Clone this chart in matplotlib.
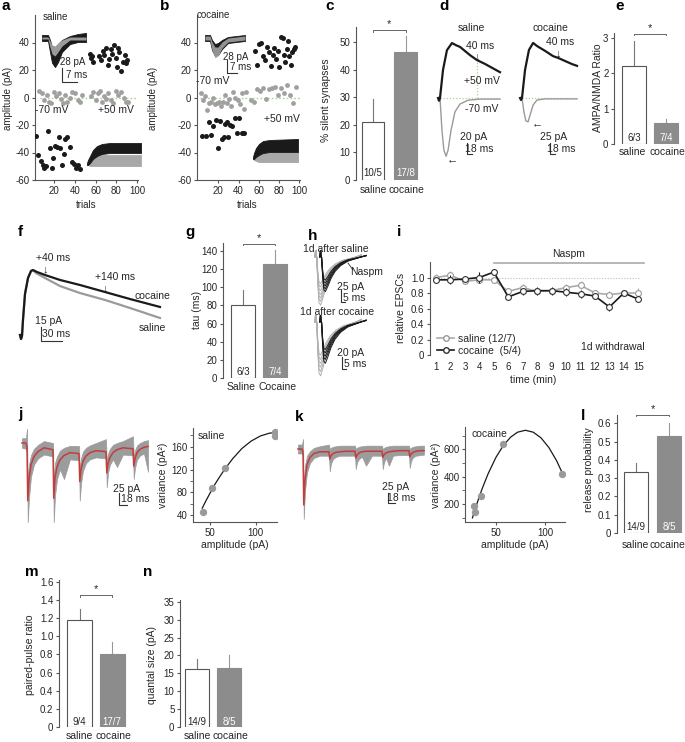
import numpy as np
import matplotlib
matplotlib.use('Agg')
import matplotlib.pyplot as plt
from matplotlib.lines import Line2D

plt.rcParams['font.family'] = ['Liberation Sans', 'DejaVu Sans']
plt.rcParams['axes.unicode_minus'] = False
plt.rcParams['font.size'] = 7
TXT = '#262626'
AX = '#555555'
plt.rcParams['text.color'] = TXT
plt.rcParams['axes.edgecolor'] = AX
plt.rcParams['xtick.color'] = AX
plt.rcParams['ytick.color'] = AX
plt.rcParams['xtick.labelcolor'] = TXT
plt.rcParams['ytick.labelcolor'] = TXT
plt.rcParams['axes.linewidth'] = 0.8
plt.rcParams['xtick.major.size'] = 2.5
plt.rcParams['ytick.major.size'] = 2.5
plt.rcParams['xtick.major.width'] = 0.8
plt.rcParams['ytick.major.width'] = 0.8
plt.rcParams['xtick.major.pad'] = 2
plt.rcParams['ytick.major.pad'] = 1.5
plt.rcParams['xtick.labelsize'] = 7
plt.rcParams['ytick.labelsize'] = 7

GRAYBAR = '#8c8c8c'
LGRAY = '#9a9a9a'
BLK = '#1a1a1a'
GREEN = '#a9d494'
RED = '#c43c3c'

# ---------------- data ----------------
# panel a (saline) scatter
a_pos_x = [55, 56, 57, 58, 63, 65, 67, 68, 70, 72, 73, 75, 76, 78, 80, 81, 82, 83, 85, 86, 88, 89, 90]
a_pos_y = [32, 29, 30, 26, 30, 27, 34, 31, 36, 24, 28, 35, 32, 38, 29, 22, 36, 33, 19, 26, 31, 25, 27]
a_neg_x = [3, 5, 7, 9, 10, 12, 14, 16, 18, 19, 21, 23, 25, 26, 28, 30, 31, 33, 35, 37, 39, 41, 43, 45]
a_neg_y = [-28, -42, -46, -49, -51, -50, -24, -37, -51, -44, -35, -36, -29, -37, -49, -41, -30, -29,
           -36, -47, -48, -51, -49, -52]
a_gray_x = [6, 8, 10, 13, 15, 17, 20, 22, 25, 27, 29, 31, 33, 35, 37, 40, 43, 45, 47, 56, 58, 60, 62,
            64, 66, 68, 70, 72, 75, 77, 80, 82, 85, 87, 89, 91]
a_gray_y = [5, 3, -2, 2, -3, -4, 4, 1, 3, -1, -4, 2, -3, 0, 4, 3, -2, -3, 2, 1, 4, -2, 3, 5, -3, 1, -1,
            3, -2, -4, 5, 2, 4, 0, -3, -3]
# panel b (cocaine) scatter
b_pos_x = [56, 58, 60, 62, 64, 66, 68, 70, 72, 74, 75, 77, 79, 80, 82, 84, 85, 86, 88, 89, 90, 92, 93, 95, 96]
b_pos_y = [34, 24, 39, 40, 30, 27, 37, 33, 23, 31, 36, 28, 34, 22, 44, 43, 31, 26, 35, 41, 30, 24, 33, 35, 37]
b_neg_x = [4, 8, 11, 13, 15, 18, 20, 22, 24, 26, 27, 29, 30, 32, 34, 37, 38, 40, 43, 45]
b_neg_y = [-28, -28, -18, -27, -21, -16, -37, -17, -30, -29, -19, -18, -29, -20, -21, -15, -26, -15, -26, -26]
b_gray_x = [3, 5, 7, 9, 11, 13, 15, 17, 19, 21, 23, 25, 27, 29, 31, 33, 35, 37, 39, 41, 43, 45, 47, 52,
            55, 58, 61, 64, 67, 70, 73, 76, 79, 82, 85, 88, 91, 94, 97]
b_gray_y = [3, -2, 1, -9, -4, -3, 0, -5, -4, -3, -6, -3, 2, -4, -1, -6, 4, 0, -2, -5, 3, -8, 4, -2, -3,
            6, 5, 7, -1, 6, 7, 8, 2, 7, 3, 9, 2, -4, 8]

# inset traces (ms, pA): envelopes of overlaid sweeps
a_top_t = [0, 3, 4, 5, 6.5, 8, 10, 14, 18, 22]
a_top_blk_hi = [5, 5, -3.3, -15, -16.5, -10, -3.3, 3.3, 6.6, 8.3]
a_top_blk_lo = [-5, -5, -23, -41, -48, -40, -23, -10, -6.6, -6.6]
a_top_gry_hi = [1.6, 1.6, -5, -11.5, -13.2, -8.3, -3.3, 1.6, 1.6, 1.6]
a_top_gry_lo = [-1.6, -1.6, -15, -26.4, -29.7, -23, -13.2, -3.3, -3.3, -3.3]
a_bot_t = [-0.5, 0, 1, 2.5, 4.5, 7, 11, 18.5, 26.5]
a_bot_blk_hi = [0, 5, 11.5, 21.5, 28, 31.4, 33, 33, 33]
a_bot_blk_lo = [-3.3, -3.3, 0, 6.6, 11.5, 14.9, 16.5, 16.5, 16.5]
a_bot_gry_hi = [0, 1.6, 3.3, 8.3, 11.5, 13.2, 13.2, 13.2, 13.2]
a_bot_gry_lo = [-3.3, -3.3, -5, -5, -5, -5, -5, -5, -5]
b_top_t = [0, 3.5, 4.9, 7, 9.1, 11.9, 16.1, 28]
b_top_blk_hi = [6.4, 6.4, -4.3, -12.9, -10.8, -4.3, 2.2, 6.4]
b_top_blk_lo = [-6.4, -6.4, -25.8, -38.7, -36.6, -23.7, -10.8, -6.4]
b_top_gry_hi = [4.3, 4.3, -8.6, -19.4, -19.4, -8.6, 0, 4.3]
b_top_gry_lo = [-4.3, -4.3, -25.8, -43, -38.7, -21.5, -8.6, -4.3]
b_bot_t = [-0.7, 0, 1.4, 3.5, 6.3, 11.2, 30.8]
b_bot_blk_hi = [0, 8.6, 19.4, 28, 34.4, 36.6, 38.7]
b_bot_blk_lo = [-4.3, -4.3, 0, 4.3, 8.6, 10.8, 10.8]
b_bot_gry_hi = [0, 2.2, 4.3, 8.6, 10.8, 10.8, 10.8]
b_bot_gry_lo = [-4.3, -6.4, -8.6, -10.8, -10.8, -10.8, -10.8]

# panel c
groups = ['saline', 'cocaine']
c_vals = [21.0, 46.5]
c_errs = [8.5, 5.5]
c_n = ['10/5', '17/8']
# panel d traces (ms, pA)
d_sal_p50_t = [-7, -3.6, 0, 10.8, 25, 43, 58, 72, 108, 133, 162, 187, 216]
d_sal_p50_i = [0, -5, 0, 51, 87, 100, 96, 93, 78, 69, 62, 55, 47]
d_sal_m70_t = [0, 7, 14, 22, 29, 40, 54, 72, 101, 144, 216]
d_sal_m70_i = [0, -58, -95, -106, -95, -58, -25, -11, -4, -2, -2]
d_coc_p50_t = [-7, -3.6, 0, 11, 25, 40, 54, 83, 112, 130, 155, 180, 198]
d_coc_p50_i = [0, -4.5, 0, 64, 109, 125, 118, 107, 95, 91, 84, 77, 73]
d_coc_m70_t = [0, 7, 14, 22, 29, 40, 54, 83, 198]
d_coc_m70_i = [0, -32, -52, -54, -39, -16, -4.5, -2, -2]
# panel e
e_vals = [2.2, 0.6]
e_errs = [0.7, 0.12]
e_n = ['6/3', '7/4']
# panel f traces
f_coc_t = [-2.9, -1.4, 0, 1.4, 4.3, 8.6, 12.9, 15.7, 21.5, 32.9, 54.3, 82.9, 118.7, 154.4, 197.3]
f_coc_i = [0, -4.3, -1.1, 16, 44, 61, 68.5, 69.5, 67.4, 64.2, 58.9, 53.5, 46, 38.5, 30]
f_sal_t = [-2.9, -1.4, 0, 1.4, 4.3, 8.6, 12.9, 15.7, 20, 32.9, 54.3, 82.9, 118.7, 154.4, 197.3]
f_sal_i = [0, -4.3, -1.1, 16, 44, 61, 68.5, 69.5, 66.3, 61, 52.4, 44.9, 37.5, 28.9, 18.2]
# panel g
g_labels = ['Saline', 'Cocaine']
g_vals = [80, 126]
g_errs = [17, 15]
g_n = ['6/3', '7/4']
# panel h: sweep template (ms, normalised) and sweep amplitudes (pA)
h_t = [0, 1.0, 1.6, 2.2, 3.5, 5, 7, 10, 14, 19, 26, 35, 46, 58]
h_shape = [0, 0.25, 0, 0, -0.55, -0.95, -1.0, -0.85, -0.62, -0.42, -0.25, -0.12, -0.04, 0.05]
h_sal_gray_amp = [100, 92, 85, 78, 70, 62, 55]
h_sal_blk_amp = [72, 66, 60, 54, 48]
h_coc_gray_amp = [98, 90, 82, 75, 68, 60]
h_coc_blk_amp = [75, 68, 62, 56, 50]
# panel i
i_time = list(range(1, 16))
i_sal = [1.00, 1.03, 0.95, 0.97, 0.97, 0.82, 0.87, 0.82, 0.83, 0.87, 0.90, 0.80, 0.78, 0.80, 0.80]
i_sal_err = [0.04, 0.05, 0.03, 0.04, 0.04, 0.04, 0.05, 0.04, 0.04, 0.05, 0.05, 0.04, 0.04, 0.04, 0.07]
i_coc = [0.97, 0.97, 0.98, 1.00, 1.07, 0.75, 0.82, 0.83, 0.83, 0.81, 0.79, 0.76, 0.62, 0.80, 0.72]
i_coc_err = [0.04, 0.06, 0.04, 0.07, 0.04, 0.04, 0.04, 0.05, 0.05, 0.05, 0.05, 0.04, 0.05, 0.04, 0.04]
# panels j/k: 5-pulse train (ms, pA) mean and envelope of sweeps
jk_t = [0, 8,
        10, 11.5, 14, 18, 24, 32, 44,
        62, 63.5, 66, 70, 76, 84, 96,
        114, 115.5, 118, 122, 128, 136, 148,
        168, 169.5, 172, 176, 182, 190, 202,
        222, 223.5, 226, 230, 236, 244, 252]
j_mean = [0, 0,
          -8, -120, -75, -45, -28, -18, -10,
          -14, -115, -72, -50, -35, -26, -20,
          -22, -80, -55, -38, -27, -20, -16,
          -18, -62, -42, -30, -20, -14, -10,
          -12, -48, -32, -20, -13, -9, -7]
j_low = [-10, -12,
         -20, -165, -115, -70, -45, -32, -24,
         -28, -165, -110, -75, -55, -75, -34,
         -36, -120, -85, -58, -42, -34, -30,
         -32, -92, -62, -45, -34, -50, -24,
         -26, -75, -52, -35, -26, -22, -60]
j_high = [10, 10,
          30, -80, -45, -25, -12, -4, 4,
          0, -75, -42, -28, -16, -10, -6,
          -6, -55, -32, -18, -10, -5, 0,
          8, -40, -22, -12, -4, 0, 4,
          14, -30, -15, -5, 0, 4, 6]
k_mean = [0, 0,
          -5, -100, -55, -28, -15, -8, -5,
          -5, -18, -12, -8, -6, -5, -4,
          -4, -16, -11, -7, -5, -4, -4,
          -4, -15, -10, -7, -5, -4, -3,
          -3, -14, -9, -6, -4, -3, -3]
k_low = [-8, -8,
         -14, -125, -75, -42, -25, -16, -12,
         -12, -40, -26, -18, -14, -12, -12,
         -12, -36, -24, -18, -14, -30, -12,
         -12, -36, -24, -16, -30, -12, -11,
         -11, -34, -22, -15, -12, -11, -10]
k_high = [8, 8,
          18, -65, -30, -12, -4, 2, 5,
          8, 0, 2, 4, 5, 6, 6,
          6, 0, 2, 4, 5, 6, 6,
          6, 0, 2, 4, 5, 6, 6,
          6, 0, 2, 4, 5, 6, 6]
# variance-mean
j_amp = [43, 53, 67, 121, 121]
j_var = [46, 87, 122, 186, 179]
j_fit_amp = [42, 46, 50, 55, 60, 67, 75, 85, 95, 105, 115, 122]
j_fit_var = [52, 65, 77, 92, 105, 122, 139, 157, 170, 179, 184, 185]
k_amp = [28, 28.5, 35, 57.5, 117]
k_var = [185, 144, 261, 637, 420]
k_fit_amp = [26, 28, 32, 36, 42, 50, 57.5, 65, 72, 80, 88, 96, 104, 112, 119]
k_fit_var = [98, 145, 233, 314, 422, 542, 629, 690, 726, 740, 726, 684, 613, 515, 405]
# panel l, m, n
l_vals = [0.335, 0.53]
l_errs = [0.045, 0.07]
l_n = ['14/9', '8/5']
m_vals = [1.18, 0.81]
m_errs = [0.12, 0.13]
m_n = ['9/4', '17/7']
n_vals = [16.2, 16.4]
n_errs = [2.8, 3.6]
n_n = ['14/9', '8/5']

# ---------------- layout helpers ----------------
W, H = 685, 742
fig = plt.figure(figsize=(W / 100, H / 100), dpi=100)


def pax(x0, y0, x1, y1):
    return fig.add_axes([x0 / W, 1 - y1 / H, (x1 - x0) / W, (y1 - y0) / H])


def ftext(x, y, s, **kw):
    kw.setdefault('ha', 'center')
    kw.setdefault('va', 'center')
    kw.setdefault('fontsize', 7)
    fig.text(x / W, 1 - y / H, s, **kw)


def letter(x, y, s):
    fig.text(x / W, 1 - y / H, s, fontsize=11, fontweight='bold', ha='left', va='center', color='black')


def fline(xs, ys, color='#333333', lw=0.8, **kw):
    fig.add_artist(Line2D([x / W for x in xs], [1 - y / H for y in ys], transform=fig.transFigure,
                          color=color, lw=lw, **kw))


def trace_ax(x0, y0, x1, y1, bx, by, mpp, ppp):
    ax = pax(x0, y0, x1, y1)
    ax.set_xlim((x0 - bx) * mpp, (x1 - bx) * mpp)
    ax.set_ylim((by - y1) * ppp, (by - y0) * ppp)
    ax.axis('off')
    return ax


def left_only(ax):
    for s in ['top', 'right', 'bottom']:
        ax.spines[s].set_visible(False)
    ax.tick_params(axis='x', length=0)
    ax.set_xticks([])


def bar_panel(box, c0, c1, bwpx, ylim, yticks, ytl, vals, errs, ns, sig=None):
    x0, y0, x1, y1 = box
    unit = c1 - c0
    ax = pax(x0, y0, x1, y1)
    ax.set_xlim((x0 - c0) / unit, 1 + (x1 - c1) / unit)
    ax.set_ylim(*ylim)
    bw = bwpx / unit
    ax.plot([0, 0], [vals[0], vals[0] + errs[0]], color='#777777', lw=0.8, zorder=1)
    ax.plot([1, 1], [vals[1], vals[1] + errs[1]], color='#999999', lw=0.8, zorder=1)
    ax.bar([0], [vals[0]], width=bw, color='white', edgecolor='#555555', lw=0.8, zorder=2)
    ax.bar([1], [vals[1]], width=bw, color=GRAYBAR, edgecolor=GRAYBAR, lw=0.8, zorder=2)
    left_only(ax)
    ax.set_yticks(yticks)
    ax.set_yticklabels(ytl)
    ax.spines['left'].set_bounds(0, ylim[1])
    if sig is not None:
        d = (ylim[1] - ylim[0]) * 0.012
        ax.plot([0, 0, 1, 1], [sig - d, sig, sig, sig - d], color='#666666', lw=0.7, clip_on=False)
        ax.text(0.5, sig + d * 0.4, '*', ha='center', va='bottom', fontsize=8, color=TXT)
    return ax


def nlabels(c0, c1, y, ns):
    ftext(c0, y, ns[0], color=TXT)
    ftext(c1, y, ns[1], color='white')


# ---------------- panel a ----------------
letter(1, 6, 'a')
axa = pax(35, 15, 138, 180)
axa.set_xlim(1.7, 100.9)
axa.set_ylim(-60, 60)
axa.spines['top'].set_visible(False)
axa.spines['right'].set_visible(False)
axa.set_yticks([-60, -40, -20, 0, 20, 40])
axa.set_xticks([20, 40, 60, 80, 100])
axa.axhline(0, xmin=0.05, xmax=1, color=GREEN, ls=(0, (1.2, 1.5)), lw=1)
axa.scatter(a_gray_x, a_gray_y, s=12, color='#a0a0a0', lw=0, zorder=3)
axa.scatter(a_pos_x, a_pos_y, s=13, color=BLK, lw=0, zorder=3)
axa.scatter(a_neg_x, a_neg_y, s=13, color=BLK, lw=0, zorder=3)
ftext(8, 98, 'amplitude (pA)', rotation=90)
ftext(86, 205, 'trials')
ftext(55, 17, 'saline')
ftext(52, 110, '-70 mV', fontsize=7.5)
ftext(116, 110, '+50 mV', fontsize=7.5)

ia1 = trace_ax(40, 28, 90, 86, 42, 38, 0.5, 1.65)
ia1.fill_between(a_top_t, a_top_blk_lo, a_top_blk_hi, color=BLK, lw=0.6)
ia1.fill_between(a_top_t, a_top_gry_lo, a_top_gry_hi, color=LGRAY, lw=0)
ia2 = trace_ax(84, 130, 144, 172, 88, 163, 0.5, 1.65)
ia2.fill_between(a_bot_t, a_bot_gry_lo, a_bot_gry_hi, color='#a8a8a8', lw=0.6)
ia2.fill_between(a_bot_t, a_bot_blk_lo, a_bot_blk_hi, color=BLK, lw=0.6)
fline([62, 62, 77], [68, 82, 82])
ftext(73, 62, '28 pA')
ftext(77, 75, '7 ms')

# ---------------- panel b ----------------
letter(160, 6, 'b')
axb = pax(197, 15, 299.5, 180)
axb.set_xlim(-1, 100.2)
axb.set_ylim(-60, 60)
axb.spines['top'].set_visible(False)
axb.spines['right'].set_visible(False)
axb.set_yticks([-60, -40, -20, 0, 20, 40])
axb.set_xticks([20, 40, 60, 80, 100])
axb.axhline(0, xmin=0.03, xmax=1, color=GREEN, ls=(0, (1.2, 1.5)), lw=1)
axb.scatter(b_gray_x, b_gray_y, s=12, color='#a0a0a0', lw=0, zorder=3)
axb.scatter(b_pos_x, b_pos_y, s=13, color=BLK, lw=0, zorder=3)
axb.scatter(b_neg_x, b_neg_y, s=13, color=BLK, lw=0, zorder=3)
ftext(153, 98, 'amplitude (pA)', rotation=90)
ftext(247, 205, 'trials')
ftext(213, 15, 'cocaine')
ftext(213, 81, '-70 mV', fontsize=7.5)
ftext(282, 119, '+50 mV', fontsize=7.5)

ib1 = trace_ax(203, 28, 250, 80, 205, 38, 0.7, 2.15)
ib1.fill_between(b_top_t, b_top_blk_lo, b_top_blk_hi, color=BLK, lw=0.6)
ib1.fill_between(b_top_t, b_top_gry_lo, b_top_gry_hi, color='#a8a8a8', lw=0, alpha=0.85)
ib2 = trace_ax(250, 128, 302, 168, 254, 157, 0.7, 2.15)
ib2.fill_between(b_bot_t, b_bot_gry_lo, b_bot_gry_hi, color='#a8a8a8', lw=0.6)
ib2.fill_between(b_bot_t, b_bot_blk_lo, b_bot_blk_hi, color=BLK, lw=0.6)
fline([227, 227, 237], [60, 73, 73])
ftext(236, 57, '28 pA')
ftext(241, 67, '7 ms')

# ---------------- panel c ----------------
letter(325, 6, 'c')
bar_panel((356, 27, 420, 180), 373, 405.5, 22.5, (0, 55.4), [0, 10, 20, 30, 40, 50],
          ['0', '10', '20', '30', '40', '50'], c_vals, c_errs, c_n, sig=54.3)
nlabels(373, 405.5, 173, c_n)
ftext(326, 100, '% silent synapses', rotation=90, fontsize=7.5)
ftext(373, 190, groups[0], fontsize=7.5)
ftext(406, 190, groups[1], fontsize=7.5)

# ---------------- panel d ----------------
letter(439, 6, 'd')
ds = trace_ax(434, 36, 506, 166, 440, 98, 3.6, 1.82)
ds.plot([0, 216], [0, 0], color=GREEN, ls=(0, (1, 1.5)), lw=0.9)
ds.plot([133, 133], [0, 69], color=GREEN, ls=(0, (1, 1.5)), lw=0.9)
ds.plot(d_sal_m70_t, d_sal_m70_i, color=LGRAY, lw=1.0)
ds.plot(d_sal_p50_t, d_sal_p50_i, color=BLK, lw=1.6)
dc = trace_ax(516, 36, 582, 166, 522, 98, 3.6, 2.27)
dc.plot([0, 198], [0, 0], color=GREEN, ls=(0, (1, 1.5)), lw=0.9)
dc.plot(d_coc_m70_t, d_coc_m70_i, color=LGRAY, lw=1.0)
dc.plot(d_coc_p50_t, d_coc_p50_i, color=BLK, lw=1.6)
ftext(471, 28, 'saline', fontsize=7.5)
ftext(550, 28, 'cocaine', fontsize=7.5)
ftext(480, 46, '40 ms', fontsize=7.5)
ftext(477, 56, '\u2193', fontsize=8)
ftext(560, 42, '40 ms', fontsize=7.5)
ftext(558, 53, '\u2193', fontsize=8)
ftext(482, 81, '+50 mV', fontsize=7.5)
ftext(482, 109, '-70 mV', fontsize=7.5)
ftext(452, 159, '\u2190', fontsize=8)
ftext(537, 123, '\u2190', fontsize=8)
fline([467, 467, 472], [143, 154, 154])
ftext(474, 137, '20 pA', fontsize=7.5)
ftext(479, 149, '18 ms', fontsize=7.5)
fline([550, 550, 555], [143, 154, 154])
ftext(554, 137, '25 pA', fontsize=7.5)
ftext(561, 149, '18 ms', fontsize=7.5)

# ---------------- panel e ----------------
letter(615, 6, 'e')
bar_panel((614, 33, 680, 144), 634, 666, 24, (0, 3.14), [0, 1, 2, 3], ['0', '1', '2', '3'],
          e_vals, e_errs, e_n, sig=3.12)
nlabels(634, 666, 138, e_n)
ftext(598, 88, 'AMPA/NMDA Ratio', rotation=90, fontsize=7.5)
ftext(632, 152, groups[0], fontsize=7.5)
ftext(667, 152, groups[1], fontsize=7.5)

# ---------------- panel f ----------------
letter(18, 232, 'f')
fa = trace_ax(14, 258, 168, 345, 22, 335, 1.43, 1.07)
fa.plot(f_sal_t, f_sal_i, color=LGRAY, lw=1.6)
fa.plot(f_coc_t, f_coc_i, color=BLK, lw=1.6)
ftext(53, 258, '+40 ms', fontsize=7.5)
ftext(45, 269, '\u2193', fontsize=8)
ftext(115, 277, '+140 ms', fontsize=7.5)
ftext(105, 288, '\u2193', fontsize=8)
ftext(152, 296, 'cocaine', fontsize=7.5)
ftext(152, 328, 'saline', fontsize=7.5)
fline([41, 41, 62], [327, 341, 341])
ftext(49, 321, '15 pA', fontsize=7.5)
ftext(56, 334, '30 ms', fontsize=7.5)

# ---------------- panel g ----------------
letter(185, 232, 'g')
bar_panel((223, 243, 292, 378), 243, 275, 24, (0, 148.8), [0, 20, 40, 60, 80, 100, 120, 140],
          ['0', '20', '40', '60', '80', '100', '120', '140'], g_vals, g_errs, g_n, sig=148)
nlabels(243, 275, 372, g_n)
ftext(197, 310, 'tau (ms)', rotation=90, fontsize=7.5)
ftext(241, 387, g_labels[0], fontsize=7.5)
ftext(278, 387, g_labels[1], fontsize=7.5)

# ---------------- panel h ----------------
letter(308, 236, 'h')
h_t_arr = np.array(h_t)
h_sh = np.array(h_shape)
hs = trace_ax(310, 250, 370, 308, 315, 257, 1.25, 2.08)
for a in h_sal_gray_amp:
    hs.plot(h_t_arr, h_sh * a, color='#b0b0b0', lw=0.7)
for a in h_sal_blk_amp:
    hs.plot(h_t_arr + 6, h_sh * a, color=BLK, lw=0.7)
hc = trace_ax(310, 315, 370, 380, 315, 322, 1.25, 1.82)
for a in h_coc_gray_amp:
    hc.plot(h_t_arr, h_sh * a, color='#b0b0b0', lw=0.7)
for a in h_coc_blk_amp:
    hc.plot(h_t_arr + 6, h_sh * a, color=BLK, lw=0.7)
ftext(336, 249, '1d after saline', fontsize=7.5)
ftext(337, 312, '1d after cocaine', fontsize=7.5)
ftext(367, 272, 'Naspm', fontsize=7.5)
fline([348, 353], [263, 270], lw=0.6)
fline([341, 341, 345], [290, 302, 302])
ftext(351, 287, '25 pA', fontsize=7.5)
ftext(354, 298, '5 ms', fontsize=7.5)
fline([342, 342, 346], [357, 369, 369])
ftext(351, 353, '20 pA', fontsize=7.5)
ftext(355, 364, '5 ms', fontsize=7.5)

# ---------------- panel i ----------------
letter(397, 232, 'i')
axi = pax(430, 262, 645, 355)
axi.set_xlim(0.585, 15.46)
axi.set_ylim(0, 1.2)
left_only(axi)
axi.set_yticks([0, 0.2, 0.4, 0.6, 0.8, 1.0])
axi.set_yticklabels(['0', '0.2', '0.4', '0.6', '0.8', '1.0'])
axi.spines['left'].set_bounds(0, 1.2)
axi.set_xticks(i_time)
axi.set_xticklabels([str(t) for t in i_time])
axi.tick_params(axis='x', length=0, pad=5)
axi.plot([0.9, 15.1], [1.0, 1.0], color='#bbbbbb', ls=(0, (1, 1.5)), lw=0.8)
axi.plot([5, 15.4], [1.19, 1.19], color='#aaaaaa', lw=1.2, clip_on=False)
axi.text(10.2, 1.24, 'Naspm', ha='center', va='bottom', fontsize=7.5)
axi.errorbar(i_time, i_sal, yerr=i_sal_err, color='#aaaaaa', lw=1.2, elinewidth=0.8, capsize=0,
             marker='o', ms=4.2, mfc='white', mec='#9a9a9a', mew=0.8, zorder=3)
axi.errorbar(i_time, i_coc, yerr=i_coc_err, color=BLK, lw=1.2, elinewidth=0.8, capsize=0,
             marker='o', ms=4.2, mfc='white', mec='#333333', mew=0.8, zorder=4)
hsal = Line2D([], [], color='#aaaaaa', lw=1.2, marker='o', ms=4, mfc='white', mec='#9a9a9a')
hcoc = Line2D([], [], color=BLK, lw=1.2, marker='o', ms=4, mfc='white', mec='#333333')
axi.legend([hsal, hcoc], ['saline (12/7)', 'cocaine  (5/4)'], loc='lower left', bbox_to_anchor=(0.0, -0.09),
           frameon=False, fontsize=7.5, handlelength=1.6, handletextpad=0.4, labelspacing=0.2, borderpad=0.2)
axi.text(13.2, 0.1, '1d withdrawal', ha='center', va='center', fontsize=7.5)
ftext(401, 308, 'relative EPSCs', rotation=90, fontsize=7.5)
ftext(533, 380, 'time (min)', fontsize=7.5)

# ---------------- panel j ----------------
letter(18, 414, 'j')
tj = trace_ax(16, 425, 152, 522, 22, 443, 2.0, 2.08)
tj.fill_between(jk_t, j_low, j_high, color='#9c9c9c', lw=0.5)
tj.plot(jk_t, j_mean, color=RED, lw=1.1)
fline([119, 119, 127], [493, 505, 505])
ftext(127, 489, '25 pA', fontsize=7.5)
ftext(135, 499, '18 ms', fontsize=7.5)

axj = pax(193, 428, 277, 522)
axj.set_xlim(32, 123)
axj.set_ylim(27.7, 193)
axj.spines['top'].set_visible(False)
axj.spines['right'].set_visible(False)
axj.set_yticks([40, 80, 120, 160])
axj.set_yticks([60, 100, 140, 180], minor=True)
axj.set_xticks([50, 100])
axj.tick_params(which='minor', length=2, color=AX)
axj.plot(j_fit_amp, j_fit_var, color=BLK, lw=0.9, zorder=2)
axj.scatter(j_amp, j_var, s=28, color='#9a9a9a', lw=0, zorder=3)
axj.text(0.06, 0.92, 'saline', transform=axj.transAxes, ha='left', va='center', fontsize=7.5)
ftext(163, 475, 'variance (pA\u00b2)', rotation=90, fontsize=7.5)
ftext(235, 545, 'amplitude (pA)', fontsize=7.5)

# ---------------- panel k ----------------
letter(295, 417, 'k')
tk = trace_ax(292, 425, 428, 522, 298, 449, 2.0, 1.79)
tk.fill_between(jk_t, k_low, k_high, color='#9c9c9c', lw=0.5)
tk.plot(jk_t, k_mean, color=RED, lw=1.1)
fline([388, 388, 395], [493, 503, 503])
ftext(396, 487, '25 pA', fontsize=7.5)
ftext(401, 498, '18 ms', fontsize=7.5)

axk = pax(465, 427, 565, 522)
axk.set_xlim(18.4, 120.4)
axk.set_ylim(68, 764)
axk.spines['top'].set_visible(False)
axk.spines['right'].set_visible(False)
axk.set_yticks([200, 400, 600])
axk.set_yticks([100, 300, 500, 700], minor=True)
axk.set_xticks([50, 100])
axk.tick_params(which='minor', length=2, color=AX)
axk.plot(k_fit_amp, k_fit_var, color=BLK, lw=0.9, zorder=2)
axk.scatter(k_amp, k_var, s=28, color='#9a9a9a', lw=0, zorder=3)
axk.text(0.07, 0.93, 'cocaine', transform=axk.transAxes, ha='left', va='center', fontsize=7.5)
ftext(436, 475, 'variance (pA\u00b2)', rotation=90, fontsize=7.5)
ftext(515, 545, 'amplitude (pA)', fontsize=7.5)

# ---------------- panel l ----------------
letter(581, 416, 'l')
bar_panel((617, 415, 684, 533), 636, 669, 24, (0, 0.645), [0, 0.1, 0.2, 0.3, 0.4, 0.5, 0.6],
          ['0', '0.1', '0.2', '0.3', '0.4', '0.5', '0.6'], l_vals, l_errs, l_n, sig=0.645)
nlabels(636, 669, 527, l_n)
ftext(589, 470, 'release probability', rotation=90, fontsize=7.5)
ftext(635, 545, groups[0], fontsize=7.5)
ftext(667, 545, groups[1], fontsize=7.5)

# ---------------- panel m ----------------
letter(25, 572, 'm')
bar_panel((59, 580, 128, 727), 79.5, 112, 25, (0, 1.62), [0, 0.2, 0.4, 0.6, 0.8, 1.0, 1.2, 1.4, 1.6],
          ['0', '0.2', '0.4', '0.6', '0.8', '1.0', '1.2', '1.4', '1.6'], m_vals, m_errs, m_n, sig=1.457)
nlabels(79.5, 112, 722, m_n)
ftext(30, 655, 'paired-pulse ratio', rotation=90, fontsize=7.5)
ftext(79, 736, groups[0], fontsize=7.5)
ftext(113, 736, groups[1], fontsize=7.5)

# ---------------- panel n ----------------
letter(143, 572, 'n')
bar_panel((180, 600, 246, 727), 197, 229, 24, (0, 35.5), [0, 5, 10, 15, 20, 25, 30, 35],
          ['0', '5', '10', '15', '20', '25', '30', '35'], n_vals, n_errs, n_n)
nlabels(197, 229, 722, n_n)
ftext(152, 665, 'quantal size (pA)', rotation=90, fontsize=7.5)
ftext(197, 736, groups[0], fontsize=7.5)
ftext(230, 736, groups[1], fontsize=7.5)

fig.savefig('out.png', dpi=100)
